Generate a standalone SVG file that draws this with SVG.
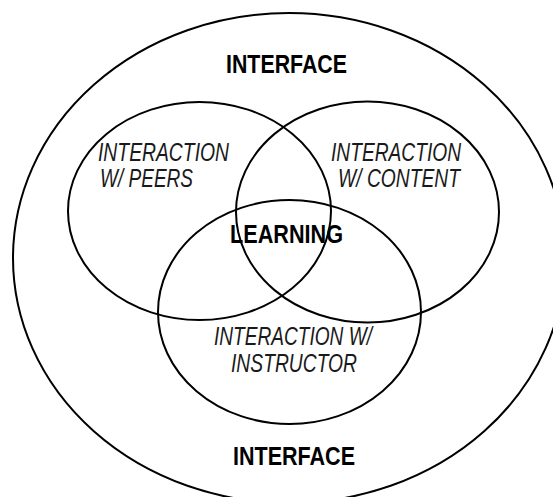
<svg xmlns="http://www.w3.org/2000/svg" width="553" height="497" viewBox="0 0 553 497">
<style>
.ring{fill:none;stroke:#000;stroke-width:2}
.b{font-family:"Liberation Sans Narrow","Liberation Sans",Arial,sans-serif;font-weight:bold;font-size:25.5px;fill:#000}
.i{font-family:"Liberation Sans Narrow","Liberation Sans",Arial,sans-serif;font-style:italic;font-size:25px;fill:#1a1a1a}
</style>
<rect width="553" height="497" fill="#fff"/>
<g id="interface">
<ellipse class="ring" cx="289" cy="258" rx="276" ry="245"/>
<text class="b" x="226" y="73" textLength="121" lengthAdjust="spacingAndGlyphs">INTERFACE</text>
<text class="b" x="233" y="465" textLength="122" lengthAdjust="spacingAndGlyphs">INTERFACE</text>
</g>
<g id="peers">
<ellipse class="ring" cx="199.5" cy="211" rx="131.5" ry="109"/>
<text class="i" x="98" y="160.5" textLength="131" lengthAdjust="spacingAndGlyphs">INTERACTION</text>
<text class="i" x="100" y="187" textLength="93" lengthAdjust="spacingAndGlyphs">W/ PEERS</text>
</g>
<g id="content">
<ellipse class="ring" cx="367.5" cy="212" rx="131.5" ry="110.5"/>
<text class="i" x="331" y="160.5" textLength="130" lengthAdjust="spacingAndGlyphs">INTERACTION</text>
<text class="i" x="338" y="187" textLength="122" lengthAdjust="spacingAndGlyphs">W/ CONTENT</text>
</g>
<g id="instructor">
<ellipse class="ring" cx="289.5" cy="312" rx="131.5" ry="112"/>
<text class="i" x="214" y="344.5" textLength="158" lengthAdjust="spacingAndGlyphs">INTERACTION W/</text>
<text class="i" x="231" y="371.5" textLength="126" lengthAdjust="spacingAndGlyphs">INSTRUCTOR</text>
</g>
<g id="learning">
<text class="b" x="230" y="242.5" textLength="113" lengthAdjust="spacingAndGlyphs">LEARNING</text>
</g>
<g id="connectors"></g>
</svg>
